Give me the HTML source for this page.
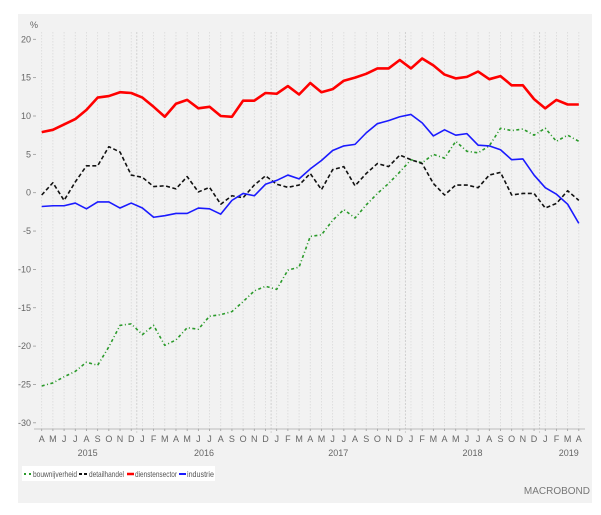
<!DOCTYPE html>
<html><head><meta charset="utf-8"><style>
body{margin:0;background:#fff;}
svg{display:block;font-family:"Liberation Sans",sans-serif;}
</style></head><body>
<svg width="601" height="515" viewBox="0 0 601 515">
<rect x="18" y="14" width="574" height="489" fill="#f2f2f2"/>
<g id="grid"></g><g id="axes"></g><g id="series"></g>
<text x="30" y="28" font-size="9" fill="#666">%</text>
<g>
<rect x="22" y="466" width="193" height="15" fill="#fff"/>
<g><line x1="24" y1="474" x2="31" y2="474" stroke="#2a9a2a" stroke-width="2" stroke-dasharray="2,3"/><text x="33" y="477" font-size="8.5" fill="#555" textLength="44" lengthAdjust="spacingAndGlyphs">bouwnijverheid</text></g>
<g><line x1="79" y1="474" x2="88" y2="474" stroke="#111" stroke-width="2" stroke-dasharray="3,2"/><text x="89" y="477" font-size="8.5" fill="#555" textLength="35" lengthAdjust="spacingAndGlyphs">detailhandel</text></g>
<g><line x1="127" y1="474" x2="134" y2="474" stroke="#f00" stroke-width="2.5"/><text x="135" y="477" font-size="8.5" fill="#555" textLength="42" lengthAdjust="spacingAndGlyphs">dienstensector</text></g>
<g><line x1="179" y1="474" x2="186" y2="474" stroke="#1a1aff" stroke-width="2"/><text x="187" y="477" font-size="8.5" fill="#555" textLength="27" lengthAdjust="spacingAndGlyphs">industrie</text></g>
</g>
<text x="590" y="494" font-size="10" fill="#777" text-anchor="end">MACROBOND</text>
</svg>
<script>
const months=["A","M","J","J","A","S","O","N","D","J","F","M","A","M","J","J","A","S","O","N","D","J","F","M","A","M","J","J","A","S","O","N","D","J","F","M","A","M","J","J","A","S","O","N","D","J","F","M","A"];
const yTicks=[20,15,10,5,0,-5,-10,-15,-20,-25,-30];
const years=["2015","2016","2017","2018","2019"];
const yearPos=[4.1,14.5,26.5,38.5,47.1];
const yearBounds=[8.5,20.5,32.5,44.5];
const dienstensector=[7.9,8.2,8.9,9.6,10.8,12.4,12.6,13.1,13.0,12.4,11.2,9.9,11.6,12.1,11.0,11.2,10.0,9.9,12.0,12.0,13.0,12.9,13.9,12.8,14.3,13.1,13.5,14.6,15.0,15.5,16.2,16.2,17.3,16.2,17.5,16.6,15.4,14.9,15.1,15.8,14.8,15.2,14.0,14.0,12.2,11.0,12.1,11.5,11.5];
const industrie=[-1.8,-1.7,-1.7,-1.35,-2.1,-1.2,-1.2,-2.0,-1.35,-2.0,-3.2,-3.0,-2.7,-2.7,-2.0,-2.1,-2.8,-1.0,-0.1,-0.4,1.1,1.6,2.3,1.8,3.1,4.2,5.5,6.1,6.3,7.8,9.0,9.4,9.9,10.2,9.1,7.4,8.2,7.5,7.7,6.2,6.1,5.6,4.3,4.4,2.3,0.65,-0.2,-1.5,-4.0];
const detailhandel=[-0.3,1.3,-1.0,1.4,3.5,3.5,6.0,5.3,2.3,2.0,0.8,0.9,0.5,2.1,0.1,0.7,-1.5,-0.4,-0.65,1.0,2.2,1.1,0.7,1.0,2.5,0.4,3.0,3.4,0.9,2.5,3.8,3.4,4.9,4.3,3.8,1.2,-0.3,1.0,1.0,0.65,2.3,2.65,-0.3,-0.1,-0.1,-2.0,-1.4,0.25,-1.0];
const bouwnijverheid=[-25.2,-24.8,-24.0,-23.3,-22.1,-22.5,-20.1,-17.3,-17.1,-18.5,-17.3,-19.9,-19.2,-17.6,-17.8,-16.1,-15.9,-15.5,-14.2,-12.8,-12.2,-12.6,-10.1,-9.7,-5.7,-5.5,-3.6,-2.2,-3.3,-1.6,-0.1,1.2,2.7,4.3,3.9,5.0,4.5,6.7,5.4,5.2,6.1,8.4,8.1,8.3,7.5,8.4,6.7,7.5,6.7];
const NS="http://www.w3.org/2000/svg";
const X=i=>41.7+11.19*i, Y=v=>192.7-v*7.67;
function mk(t,a,p){const e=document.createElementNS(NS,t);for(const k in a)e.setAttribute(k,a[k]);p.appendChild(e);return e;}
const grid=document.getElementById('grid'),axes=document.getElementById('axes'),ser=document.getElementById('series');
months.forEach((m,i)=>{
 const g=mk('line',{x1:X(i),x2:X(i),y1:32,y2:429,stroke:'#d9d9d9','stroke-width':0.8,'stroke-dasharray':'1.5,1.5'},grid);
 
 
 const t=mk('text',{x:X(i),y:442,'font-size':9,fill:'#666','text-anchor':'middle'},axes);t.textContent=m;
 
 
 mk('line',{x1:X(i),x2:X(i),y1:429,y2:431,stroke:'#999','stroke-width':0.8},axes);
});
yearBounds.forEach(b=>{
 const l=mk('line',{x1:X(b),x2:X(b),y1:32,y2:433,stroke:'#c8c8c8','stroke-width':0.8,'stroke-dasharray':'2,1.5'},grid);
 
 
});
years.forEach((y,i)=>{
 const t=mk('text',{x:X(yearPos[i]),y:456,'font-size':9,fill:'#666','text-anchor':'middle'},axes);t.textContent=y;
 
 
});
const ax=mk('line',{x1:34,x2:585,y1:429,y2:429,stroke:'#aaa','stroke-width':0.8},axes);


yTicks.forEach(v=>{
 mk('line',{x1:33,x2:36,y1:Y(v),y2:Y(v),stroke:'#999','stroke-width':0.8},axes);
 const t=mk('text',{x:31,y:Y(v)+3,'font-size':9,fill:'#666','text-anchor':'end'},axes);t.textContent=v;
 
 
});
function line(arr,color,w,dash,name){
 const p=mk('polyline',{points:arr.map((v,i)=>X(i)+','+Y(v)).join(' '),fill:'none',stroke:color,'stroke-width':w,'stroke-linejoin':'round'},ser);
 if(dash)p.setAttribute('stroke-dasharray',dash);
 
 
}
line(bouwnijverheid,'#2a9a2a',1.6,'3,2.5,1,2.5','line-bouwnijverheid');
line(detailhandel,'#111',1.6,'4,2.5','line-detailhandel');
line(industrie,'#1a1aff',1.6,null,'line-industrie');
line(dienstensector,'#f00',2.6,null,'line-dienstensector');
</script>
</body></html>
